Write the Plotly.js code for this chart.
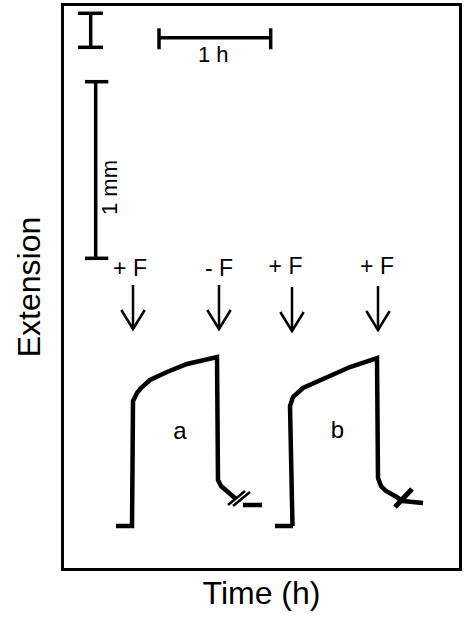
<!DOCTYPE html>
<html>
<head>
<meta charset="utf-8">
<script src="https://cdn.plot.ly/plotly-3.0.1.min.js"></script>
<style>html,body{margin:0;padding:0;background:#fff;}#chart{width:465px;height:619px;}</style>
</head>
<body>
<div id="chart"></div>
<script>
// Schematic units (arbitrary): x = time, y = extension
// Curve a (+F then -F)
const curveAX = [52, 68, 68.5, 69, 73, 77, 86, 103, 123, 153, 154, 157, 172];
const curveAY = [42, 42, 100, 167, 175, 180, 188, 196, 204, 211, 88, 82, 69];
const tailAX = [179, 198];
const tailAY = [63, 63];
const hashAX = [164, 181, null, 169, 186];
const hashAY = [63, 77, null, 62, 76];
// Curve b (+F then +F)
const curveBX = [211, 229, 228.5, 226, 229, 239, 263, 286, 313, 313.5, 314, 317, 322, 331, 339, 359];
const curveBY = [42, 42, 42, 162, 171, 180, 191, 201, 210, 150, 90, 82, 77, 72, 67, 65];
const hashBX = [331, 348];
const hashBY = [61, 79];
// Arrows: positions of the additions / removals
const arrowX = [69, 155, 228, 314];
const arrowTop = [283, 283, 281, 282];
const arrowTip = [239, 239, 237, 238];
const arrowLabels = ['+ F', '- F', '+ F', '+ F'];
const arrowLabelY = [298, 298, 300, 300];
const arrowLabelX = [66, 155, 221.5, 313];
// Curve labels
const curveLabels = ['a', 'b'];
const curveLabelX = [116, 273.5];
const curveLabelY = [135, 136];
// Scale bars
const barSmallX = [14, 39, null, 26.7, 26.7, null, 14, 39];
const barSmallY = [554.7, 554.7, null, 554.7, 520.7, null, 520.7, 520.7];
const barHourX = [95, 95, null, 95, 206.7, null, 206.7, 206.7];
const barHourY = [539.7, 518.7, null, 530.3, 530.3, null, 539.7, 518.7];
const barMmX = [21, 44.3, null, 31.7, 31.7, null, 21, 44.3];
const barMmY = [486.3, 486.3, null, 486.3, 309.7, null, 309.7, 309.7];
const hourLabel = '1 h', hourLabelX = 149.3, hourLabelY = 512;
const mmLabel = '1 mm', mmLabelX = 45.5, mmLabelY = 380.5;

const FONT = 'Liberation Sans, Arial, Helvetica, sans-serif';

// build arrow geometry from arrays
const arrowsX = [], arrowsY = [];
const headHalf = 11.7, headLen = 19;
for (let i = 0; i < arrowX.length; i++) {
  arrowsX.push(arrowX[i], arrowX[i], null, arrowX[i] - headHalf, arrowX[i], arrowX[i] + headHalf, null);
  arrowsY.push(arrowTop[i], arrowTip[i], null, arrowTip[i] + headLen, arrowTip[i], arrowTip[i] + headLen, null);
}

function line(x, y, w) {
  return {x: x, y: y, type: 'scatter', mode: 'lines', line: {color: '#000', width: w, shape: 'linear'},
          connectgaps: false, hoverinfo: 'skip', showlegend: false};
}

const traces = [
  line(curveAX, curveAY, 4.5),
  line(tailAX, tailAY, 4.5),
  line(hashAX, hashAY, 2.5),
  line(curveBX, curveBY, 4.5),
  line(hashBX, hashBY, 5),
  line(arrowsX, arrowsY, 2.5),
  line(barSmallX, barSmallY, 3.5),
  line(barHourX, barHourY, 3.5),
  line(barMmX, barMmY, 3.5),
  {x: arrowLabelX, y: arrowLabelY, text: arrowLabels, type: 'scatter', mode: 'text',
   textposition: 'middle center', textfont: {family: FONT, size: 23, color: '#000'}, hoverinfo: 'skip', showlegend: false},
  {x: curveLabelX, y: curveLabelY, text: curveLabels, type: 'scatter', mode: 'text',
   textposition: 'middle center', textfont: {family: FONT, size: 24, color: '#000'}, hoverinfo: 'skip', showlegend: false},
  {x: [hourLabelX], y: [hourLabelY], text: [hourLabel], type: 'scatter', mode: 'text',
   textposition: 'middle center', textfont: {family: FONT, size: 22, color: '#000'}, hoverinfo: 'skip', showlegend: false}
];

const layout = {
  width: 465, height: 619,
  margin: {l: 64, r: 6, t: 6, b: 51, pad: 0},
  paper_bgcolor: '#fff', plot_bgcolor: '#fff',
  showlegend: false, hovermode: false,
  font: {family: FONT, color: '#000'},
  xaxis: {range: [0, 395], showticklabels: false, ticks: '', showgrid: false, zeroline: false,
          showline: true, mirror: true, linewidth: 3, linecolor: '#000', fixedrange: true,
          title: {text: 'Time (h)', font: {family: FONT, size: 32, color: '#000'}, standoff: 12}},
  yaxis: {range: [0, 562], showticklabels: false, ticks: '', showgrid: false, zeroline: false,
          showline: true, mirror: true, linewidth: 3, linecolor: '#000', fixedrange: true,
          title: {text: 'Extension', font: {family: FONT, size: 32, color: '#000'}, standoff: 11}},
  annotations: [
    {x: mmLabelX, y: mmLabelY, xref: 'x', yref: 'y', text: mmLabel, showarrow: false, textangle: -90,
     font: {family: FONT, size: 22, color: '#000'}}
  ]
};

Plotly.newPlot('chart', traces, layout, {displayModeBar: false, staticPlot: true});
</script>
</body>
</html>
